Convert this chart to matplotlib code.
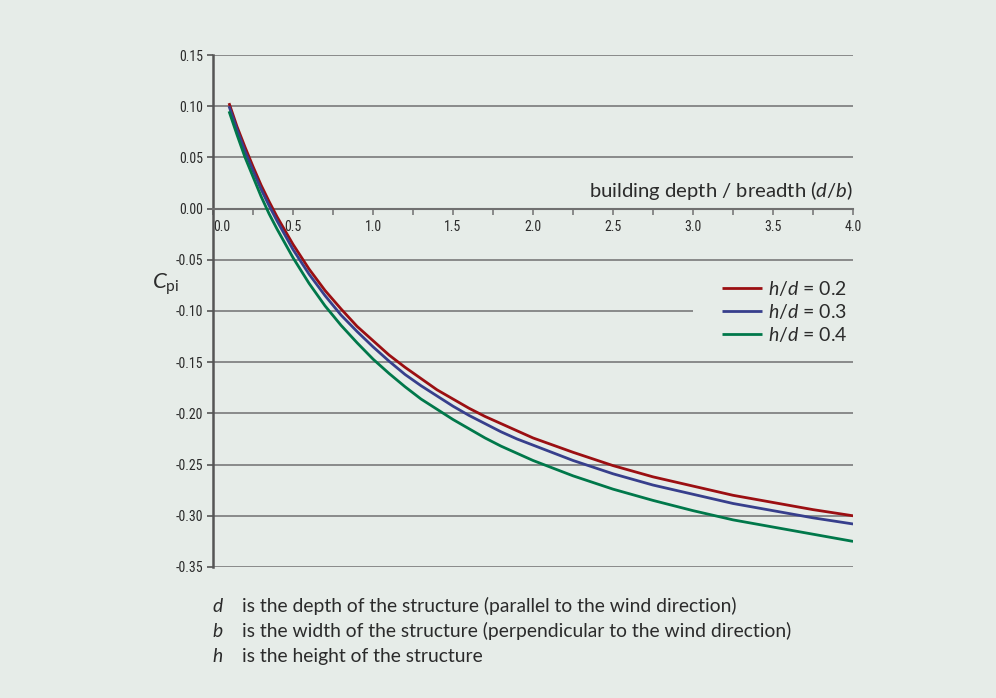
import matplotlib
matplotlib.use('Agg')
import matplotlib.pyplot as plt
import matplotlib.ticker as mticker
from matplotlib import font_manager

# values
depth_ratio = [0.1, 0.15, 0.2, 0.25, 0.3, 0.35, 0.4, 0.5, 0.6, 0.7, 0.8, 0.9,
               1.0, 1.1, 1.2, 1.3, 1.4, 1.5, 1.6, 1.7, 1.8, 1.9, 2.0, 2.25,
               2.5, 2.75, 3.0, 3.25, 3.5, 3.75, 4.0]
cpi_h02 = [0.103, 0.080, 0.060, 0.041, 0.023, 0.007, -0.008, -0.035, -0.059,
           -0.080, -0.098, -0.115, -0.129, -0.143, -0.155, -0.166, -0.177,
           -0.186, -0.195, -0.203, -0.210, -0.217, -0.224, -0.238, -0.251,
           -0.262, -0.271, -0.280, -0.287, -0.294, -0.300]
cpi_h03 = [0.100, 0.077, 0.056, 0.037, 0.019, 0.003, -0.012, -0.040, -0.064,
           -0.085, -0.104, -0.120, -0.135, -0.149, -0.162, -0.173, -0.183,
           -0.193, -0.202, -0.210, -0.218, -0.225, -0.231, -0.246, -0.259,
           -0.270, -0.279, -0.288, -0.295, -0.302, -0.308]
cpi_h04 = [0.095, 0.072, 0.050, 0.031, 0.012, -0.005, -0.020, -0.048, -0.073,
           -0.095, -0.114, -0.131, -0.147, -0.161, -0.174, -0.186, -0.196,
           -0.206, -0.215, -0.224, -0.232, -0.239, -0.246, -0.261, -0.274,
           -0.285, -0.295, -0.304, -0.311, -0.318, -0.325]
series_labels = ['$h$/$d$ = 0.2', '$h$/$d$ = 0.3', '$h$/$d$ = 0.4']
yticks = [-0.35, -0.30, -0.25, -0.20, -0.15, -0.10, -0.05, 0.00, 0.05, 0.10, 0.15]
xticks = [0.0, 0.5, 1.0, 1.5, 2.0, 2.5, 3.0, 3.5, 4.0]
notes = [('d', 'is the depth of the structure (parallel to the wind direction)'),
         ('b', 'is the width of the structure (perpendicular to the wind direction)'),
         ('h', 'is the height of the structure')]

colors = ['#9b0f12', '#373f8c', '#00784a']
bg = '#e6ece8'
grid_col = '#707070'
text_col = '#2b2b2b'

names = {f.name for f in font_manager.fontManager.ttflist}
body_font = 'Lato' if 'Lato' in names else 'DejaVu Sans'
tick_font = 'Liberation Sans'
for cand in ['Liberation Sans Narrow', 'Roboto Condensed', 'Arial Narrow']:
    if cand in names:
        tick_font = cand
        break

plt.rcParams['font.family'] = [body_font, 'DejaVu Sans']
plt.rcParams['mathtext.fontset'] = 'custom'
plt.rcParams['mathtext.rm'] = body_font
plt.rcParams['mathtext.it'] = body_font + ':italic'
plt.rcParams['axes.unicode_minus'] = False

fig = plt.figure(figsize=(9.96, 6.98), dpi=100, facecolor=bg)
ax = fig.add_axes([0.2139, 0.1877, 0.6426, 0.7335])
ax.set_facecolor(bg)

ax.set_xlim(0, 4.0)
ax.set_ylim(-0.35, 0.15)

# horizontal rules (the -0.10 one stops short of the legend)
for yv in yticks:
    if yv == 0:
        continue
    xend = 3.0 if abs(yv + 0.10) < 1e-9 else 4.0
    ax.hlines(yv, 0, xend, color=grid_col, lw=1.1, zorder=1)

for vals, col, lab in zip([cpi_h02, cpi_h03, cpi_h04], colors, series_labels):
    ax.plot(depth_ratio, vals, color=col, lw=2.0, label=lab, zorder=3,
            solid_capstyle='butt', solid_joinstyle='round')

for s in ['top', 'right']:
    ax.spines[s].set_visible(False)
ax.spines['left'].set_color('#555555')
ax.spines['left'].set_linewidth(1.8)
ax.spines['bottom'].set_position(('data', 0))
ax.spines['bottom'].set_color(grid_col)
ax.spines['bottom'].set_linewidth(1.5)

ax.set_yticks(yticks)
ax.yaxis.set_major_formatter(mticker.FormatStrFormatter('%.2f'))
ax.tick_params(axis='y', direction='out', length=4, width=1.2,
               color='#555555', pad=3, labelsize=10, labelcolor=text_col)
ax.set_xticks(xticks)
ax.xaxis.set_minor_locator(mticker.MultipleLocator(0.25))
ax.xaxis.set_major_formatter(mticker.FormatStrFormatter('%.1f'))
ax.tick_params(axis='x', which='both', direction='out', length=4, width=1.1,
               color=grid_col, pad=4, labelsize=10, labelcolor=text_col)
for lbl in ax.get_xticklabels() + ax.get_yticklabels():
    lbl.set_fontfamily([tick_font, 'DejaVu Sans'])
ax.get_xticklabels()[0].set_horizontalalignment('left')

ax.text(4.0, 0.0117, 'building depth / breadth ($d$/$b$)', ha='right',
        va='baseline', fontsize=14.6, color=text_col)
ax.text(-0.38, -0.074, r'$C_{\mathrm{pi}}$', ha='left', va='center',
        fontsize=16, color=text_col)

leg = ax.legend(loc='center left', bbox_to_anchor=(0.795, 0.499),
                frameon=False, fontsize=14, handlelength=2.06,
                handletextpad=0.3, labelspacing=0.22, borderpad=0,
                borderaxespad=0)
for t in leg.get_texts():
    t.set_color(text_col)

W, H = 996.0, 698.0
for i, (sym, desc) in enumerate(notes):
    yb = 1 - (612 + 25 * i) / H
    fig.text(212 / W, yb, sym, fontsize=13.9, style='italic', color=text_col,
             va='baseline')
    fig.text(242 / W, yb, desc, fontsize=13.9, color=text_col, va='baseline')

fig.savefig('out.png', dpi=100, facecolor=bg)
